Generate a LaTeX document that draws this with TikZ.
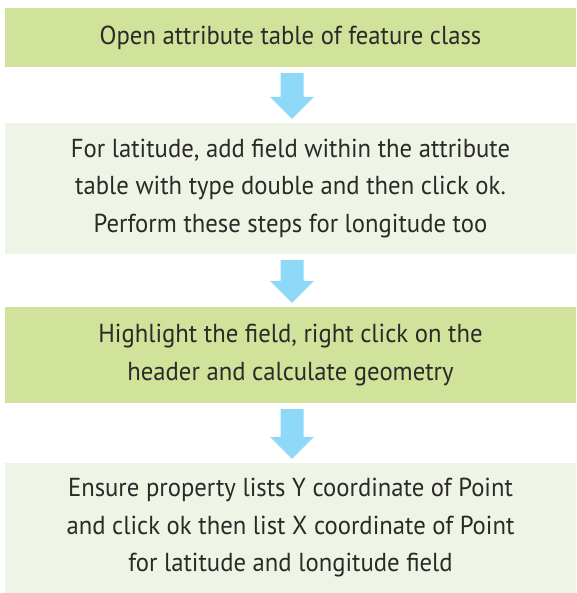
\documentclass[tikz,border=0pt]{standalone}
\usepackage{fontspec}
\setmainfont[FakeStretch=0.95]{PT Sans}
\usetikzlibrary{calc}
\definecolor{dkgreen}{HTML}{D1E29B}
\definecolor{ltgreen}{HTML}{EFF5E6}
\definecolor{arrowc}{HTML}{8ED8F8}
\definecolor{txt}{HTML}{2B2A29}
\tikzset{
  stepbox/.style={inner sep=0pt, minimum width=571pt, align=center, text=txt,
    font=\fontsize{26}{37.5}\selectfont},
  darkbox/.style={stepbox, fill=dkgreen},
  lightbox/.style={stepbox, fill=ltgreen},
}
\newcommand\blockarr[2]{%
  \path let \p1=($(#1.south)+(1.5,6)$), \p2=($(#2.north)+(1.5,-4)$) in
    [fill=arrowc] (\x1-11.5pt,\y1) -- (\x1+11.5pt,\y1) -- (\x1+11.5pt,\y2+22pt)
    -- (\x1+22pt,\y2+22pt) -- (\x1,\y2) -- (\x1-22pt,\y2+22pt)
    -- (\x1-11.5pt,\y2+22pt) -- cycle;}
\begin{document}
\begin{tikzpicture}[x=1pt,y=-1pt]
\useasboundingbox (0,0) rectangle (576,593);
\node[darkbox, minimum height=59pt] (b1) at (290.5,37.5) {Open attribute table of feature class};
\node[lightbox, minimum height=131pt] (b2) at (290.5,188.5) {For latitude, add field within the attribute\\table with type double and then click ok.\\Perform these steps for longitude too};
\node[darkbox, minimum height=96pt] (b3) at (290.5,355) {Highlight the field, right click on the\\header and calculate geometry};
\node[lightbox, minimum height=130pt] (b4) at (290.5,528) {Ensure property lists Y coordinate of Point\\and click ok then list X coordinate of Point\\for latitude and longitude field};
\blockarr{b1}{b2}
\blockarr{b2}{b3}
\blockarr{b3}{b4}
\end{tikzpicture}
\end{document}
